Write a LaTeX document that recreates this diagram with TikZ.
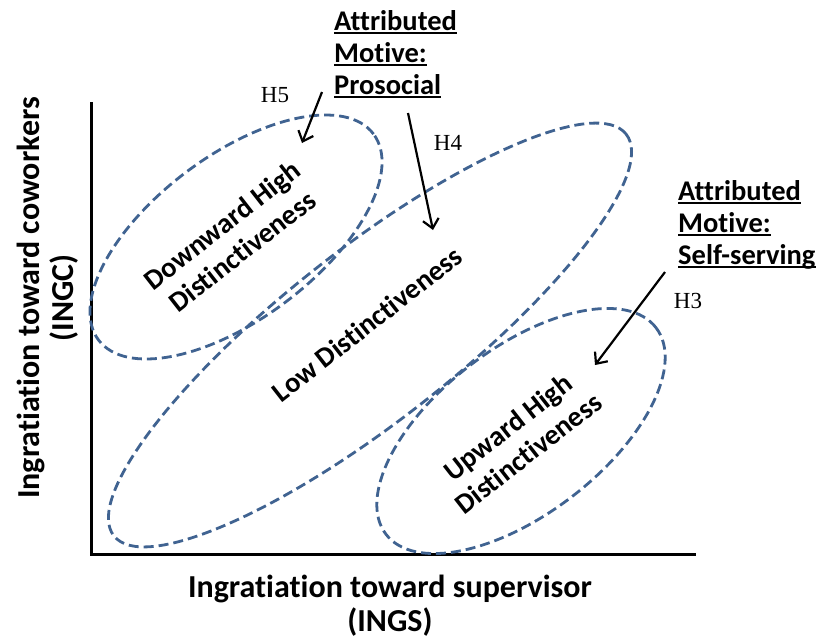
\documentclass[tikz,border=0pt]{standalone}
\usepackage{fontspec}
\setmainfont{Carlito}[Ligatures=NoCommon]
\newfontfamily\hfont{Liberation Serif}
\usetikzlibrary{shapes.geometric,arrows.meta}
\definecolor{ovalblue}{RGB}{64,99,145}
% word with a thick underline at a fixed distance below the baseline
\newcommand\ulword[1]{\setbox0\hbox{#1}\rlap{\rule[-4pt]{\wd0}{1.9pt}}\box0}

\begin{document}
\begin{tikzpicture}[x=1pt,y=-1pt,
  region/.style={ellipse, draw=ovalblue, line width=2.8pt,
    dash pattern=on 10pt off 5pt, inner sep=0pt},
  regionlabel/.style={font=\bfseries\fontsize{28.5}{33}\selectfont,
    align=center, inner sep=0pt},
  axislabel/.style={font=\bfseries\fontsize{32}{34}\selectfont,
    align=center, inner sep=0pt},
  motive/.style={font=\bfseries\fontsize{28.5}{32}\selectfont,
    align=left, inner sep=0pt, anchor=north west},
  hyp/.style={font=\hfont\fontsize{23}{26}\selectfont, inner sep=0pt},
  axis/.style={line width=3pt},
  hyparrow/.style={line width=2.2pt,
    -{Straight Barb[length=9pt,width=16pt,line width=2.2pt]}}]

\useasboundingbox (0,0) rectangle (822,641);

% axes
\coordinate (ytop) at (91,102);
\coordinate (origin) at (91,554);
\coordinate (xend) at (696,554);
\draw[axis] (ytop) -- (origin) -- (xend);

\node[axislabel] (xlabel) at (390,606)
  {Ingratiation toward supervisor\\(INGS)};
\node[axislabel, rotate=90] (ylabel) at (48,298)
  {Ingratiation toward coworkers\\(INGC)};

% regions
\node[region, minimum width=343.6pt, minimum height=163.6pt, rotate=36.8]
  (down) at (236,237) {};
\node[region, minimum width=651pt, minimum height=171.4pt, rotate=38.1]
  (low) at (370,335) {};
\node[region, minimum width=340pt, minimum height=166.2pt, rotate=37.4]
  (up) at (521,431) {};

\node[regionlabel, rotate=38] (downlbl) at (232,238)
  {Downward High\\Distinctiveness};
\node[regionlabel, rotate=38] (lowlbl) at (367,324) {Low Distinctiveness};
\node[regionlabel, rotate=38] (uplbl) at (518,440)
  {Upward High\\Distinctiveness};

% attributed motives
\node[motive] (prosocial) at (334,10)
  {\ulword{Attributed}\\\ulword{Motive:}\\\ulword{Prosocial}};
\node[motive] (selfserving) at (678,180)
  {\ulword{Attributed}\\\ulword{Motive:}\\\ulword{Self-serving}};

% hypotheses
\node[hyp] (h5) at (275,95) {H5};
\node[hyp] (h4) at (448,143) {H4};
\node[hyp] (h3) at (688,301) {H3};

\coordinate (h5s) at (322,92);
\coordinate (h5e) at (302,143);
\coordinate (h4s) at (408,113);
\coordinate (h4e) at (433,230);
\coordinate (h3s) at (665,272);
\coordinate (h3e) at (595,365);
\draw[hyparrow] (h5s) -- (h5e);
\draw[hyparrow] (h4s) -- (h4e);
\draw[hyparrow] (h3s) -- (h3e);
\end{tikzpicture}
\end{document}
